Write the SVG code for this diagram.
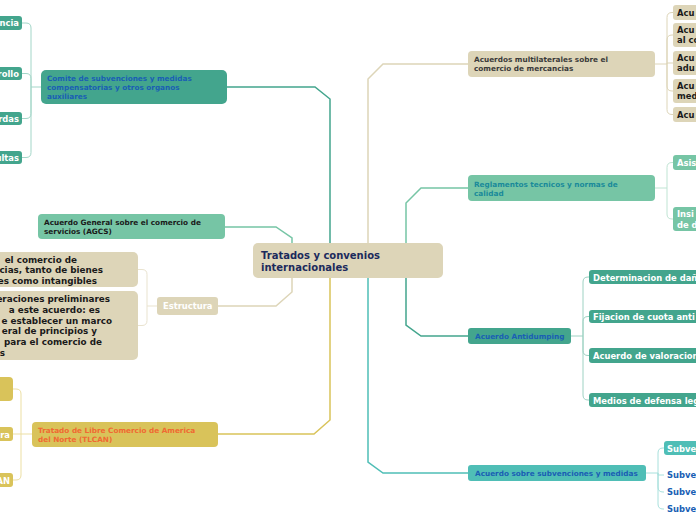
<svg xmlns="http://www.w3.org/2000/svg" width="696" height="520" viewBox="0 0 696 520">
<style>
text{font-family:"DejaVu Sans","Verdana",sans-serif;font-weight:bold}
.t{font-size:7.3px}
.c{font-size:8.4px}
.e{font-size:8.8px;fill:#1a1a1a;text-anchor:end}
.w{fill:#ffffff}
.d{fill:#1a1a1a}
.bl{fill:#1a5fb4}
.main{fill:none;stroke-width:1.5}
.sub{fill:none;stroke-width:1}
.beige{fill:#ddd5b8}
.teal{fill:#43a58d}
.green{fill:#76c5a5}
.mus{fill:#d9c35a}
.turq{fill:#4fbeb6}
</style>
<rect width="696" height="520" fill="#ffffff"/>
<g id="connectors">
<path class="main" stroke="#43a58d" d="M227,87 H315 L330,99 V243"/>
<path class="main" stroke="#76c5a5" d="M225,227 H276 L292,238 V243"/>
<path class="main" stroke="#ddd5b8" d="M218,306 H276 L292,292 V278"/>
<path class="main" stroke="#d9c35a" d="M218,434 H314 L330,420 V278"/>
<path class="main" stroke="#ddd5b8" d="M468,64 H383 L368,79 V243"/>
<path class="main" stroke="#76c5a5" d="M468,188 H421 L406,203 V243"/>
<path class="main" stroke="#43a58d" d="M468,336 H421 L406,325 V278"/>
<path class="main" stroke="#4fbeb6" d="M468,473 H383 L368,462 V278"/>
<g class="sub" stroke="#a3d6c8">
<path d="M41,87 H31"/>
<path d="M31,87 V28 Q31,23 26,23 H22"/>
<path d="M31,87 V78.5 Q31,73.5 26,73.5 H22"/>
<path d="M31,87 V113.5 Q31,118.5 26,118.5 H22"/>
<path d="M31,87 V152.5 Q31,157.5 26,157.5 H22"/>
</g>
<g class="sub" stroke="#e9e3cf">
<path d="M157,306 H147"/>
<path d="M147,306 V274.5 Q147,269.5 142,269.5 H138"/>
<path d="M147,306 V320.5 Q147,325.5 142,325.5 H138"/>
</g>
<g class="sub" stroke="#ecdfa3">
<path d="M32,434 H13"/>
<path d="M21,434 V394 Q21,389 16,389 H13"/>
<path d="M21,434 V475 Q21,480 16,480 H13"/>
</g>
<g class="sub" stroke="#ddd5b8">
<path d="M655,64 H667"/>
<path d="M667,64 V17.5 Q667,12.5 672,12.5 H673"/>
<path d="M667,64 V40 Q667,35 672,35 H673"/>
<path d="M667,64 V63 H673"/>
<path d="M667,64 V86 Q667,91 672,91 H673"/>
<path d="M667,64 V109.5 Q667,114.5 672,114.5 H673"/>
</g>
<g class="sub" stroke="#bfe4d3">
<path d="M655,188 H667"/>
<path d="M667,188 V167.5 Q667,162.5 672,162.5 H673"/>
<path d="M667,188 V214 Q667,219 672,219 H673"/>
</g>
<g class="sub" stroke="#9ed2c3">
<path d="M571,336 H583"/>
<path d="M583,336 V282 Q583,277 588,277 H589"/>
<path d="M583,336 V321.5 Q583,316.5 588,316.5 H589"/>
<path d="M583,336 V350.5 Q583,355.5 588,355.5 H589"/>
<path d="M583,336 V395 Q583,400 588,400 H589"/>
</g>
<g class="sub" stroke="#a8e0dc">
<path d="M646,473 H658"/>
<path d="M658,473 V453 Q658,448 663,448 H664"/>
<path d="M658,473 V475 H664"/>
<path d="M658,473 V487 Q658,492 663,492 H664"/>
<path d="M658,473 V504 Q658,509 663,509 H664"/>
</g>
</g>
<g id="center">
<rect class="beige" x="253" y="243" width="190" height="35" rx="5"/>
<text x="261" y="258.5" font-size="10" fill="#1b2a5c">Tratados y convenios</text>
<text x="261" y="270.5" font-size="10" fill="#1b2a5c">internacionales</text>
</g>
<g id="comite">
<rect class="teal" x="41" y="70" width="186" height="34" rx="5"/>
<text class="t bl" x="47" y="81">Comite de subvenciones y medidas</text>
<text class="t bl" x="47" y="90">compensatorias y otros organos</text>
<text class="t bl" x="47" y="99">auxiliares</text>
</g>
<g id="comite-c1"><rect class="teal" x="-80" y="16" width="102" height="14" rx="3"/><text class="c w" x="19" y="26" text-anchor="end">ncia</text></g>
<g id="comite-c2"><rect class="teal" x="-80" y="67" width="102" height="13" rx="3"/><text class="c w" x="19" y="77" text-anchor="end">rrollo</text></g>
<g id="comite-c3"><rect class="teal" x="-80" y="112" width="102" height="13" rx="3"/><text class="c w" x="19" y="122" text-anchor="end">rdas</text></g>
<g id="comite-c4"><rect class="teal" x="-80" y="151" width="102" height="13" rx="3"/><text class="c w" x="19" y="161" text-anchor="end">ultas</text></g>
<g id="agcs">
<rect class="green" x="38" y="214" width="187" height="25" rx="4"/>
<text class="t d" x="44" y="224.5">Acuerdo General sobre el comercio de</text>
<text class="t d" x="44" y="233.5">servicios (AGCS)</text>
</g>
<g id="estructura">
<rect class="beige" x="157" y="297" width="61" height="18" rx="3"/>
<text class="c w" x="163" y="309">Estructura</text>
</g>
<g id="estructura-c1">
<rect class="beige" x="-100" y="252" width="238" height="35" rx="5"/>
<text class="e" x="77" y="262.5">el comercio de</text>
<text class="e" x="103" y="273.3">cias, tanto de bienes</text>
<text class="e" x="97" y="284">es como intangibles</text>
</g>
<g id="estructura-c2">
<rect class="beige" x="-100" y="291" width="238" height="69" rx="5"/>
<text class="e" x="110" y="302">eraciones preliminares</text>
<text class="e" x="100" y="312.8">a este acuerdo: es</text>
<text class="e" x="112" y="323.6">e establecer un marco</text>
<text class="e" x="97" y="334.4">eral de principios y</text>
<text class="e" x="102" y="345.2">para el comercio de</text>
<text class="e" x="5" y="356">s</text>
</g>
<g id="tlcan">
<rect class="mus" x="32" y="422" width="186" height="25" rx="4"/>
<text class="t" fill="#f06a32" x="38" y="433">Tratado de Libre Comercio de America</text>
<text class="t" fill="#f06a32" x="38" y="442">del Norte (TLCAN)</text>
</g>
<g id="tlcan-c1"><rect class="mus" x="-80" y="377" width="93" height="24" rx="4"/></g>
<g id="tlcan-c2"><rect class="mus" x="-80" y="427" width="93" height="14" rx="3"/><text class="c w" x="10" y="437.5" text-anchor="end">ra</text></g>
<g id="tlcan-c3"><rect class="mus" x="-80" y="473" width="93" height="14" rx="3"/><text class="c w" x="10" y="483.5" text-anchor="end">AN</text></g>
<g id="multilaterales">
<rect class="beige" x="468" y="51" width="187" height="26" rx="4"/>
<text class="t" fill="#3a3a3a" x="474" y="62">Acuerdos multilaterales sobre el</text>
<text class="t" fill="#3a3a3a" x="474" y="71">comercio de mercancias</text>
</g>
<g id="multi-c1"><rect class="beige" x="673" y="5" width="90" height="15" rx="3"/><text class="c d" x="677" y="16">Acu</text></g>
<g id="multi-c2"><rect class="beige" x="673" y="23" width="90" height="24" rx="3"/><text class="c d" x="677" y="32.5">Acu</text><text class="c d" x="677" y="43">al co</text></g>
<g id="multi-c3"><rect class="beige" x="673" y="51" width="90" height="24" rx="3"/><text class="c d" x="677" y="60.5">Acu</text><text class="c d" x="677" y="71">adu</text></g>
<g id="multi-c4"><rect class="beige" x="673" y="79" width="90" height="24" rx="3"/><text class="c d" x="677" y="88.5">Acu</text><text class="c d" x="677" y="99">med</text></g>
<g id="multi-c5"><rect class="beige" x="673" y="107" width="90" height="15" rx="3"/><text class="c d" x="677" y="118">Acu</text></g>
<g id="reglamentos">
<rect class="green" x="468" y="175" width="187" height="26" rx="4"/>
<text class="t" fill="#1a8a9a" x="474" y="187">Reglamentos tecnicos y normas de</text>
<text class="t" fill="#1a8a9a" x="474" y="196">calidad</text>
</g>
<g id="regl-c1"><rect class="green" x="673" y="155" width="90" height="15" rx="3"/><text class="c w" x="677" y="166">Asis</text></g>
<g id="regl-c2"><rect class="green" x="673" y="207" width="90" height="24" rx="3"/><text class="c w" x="677" y="217">Insi</text><text class="c w" x="677" y="228">de d</text></g>
<g id="antidumping">
<rect class="teal" x="468" y="328" width="103" height="16" rx="3"/>
<text class="t bl" x="475" y="339">Acuerdo Antidumping</text>
</g>
<g id="anti-c1"><rect class="teal" x="589" y="270" width="140" height="14" rx="3"/><text class="c w" x="593" y="280.5">Determinacion de dañ</text></g>
<g id="anti-c2"><rect class="teal" x="589" y="310" width="140" height="13" rx="3"/><text class="c w" x="593" y="320">Fijacion de cuota anti</text></g>
<g id="anti-c3"><rect class="teal" x="589" y="348" width="140" height="15" rx="3"/><text class="c w" x="593" y="359">Acuerdo de valoracion</text></g>
<g id="anti-c4"><rect class="teal" x="589" y="393" width="140" height="14" rx="3"/><text class="c w" x="593" y="403.5">Medios de defensa leg</text></g>
<g id="subvenciones">
<rect class="turq" x="468" y="465" width="178" height="16" rx="3"/>
<text class="t bl" x="475" y="476">Acuerdo sobre subvenciones y medidas</text>
</g>
<g id="subv-c1"><rect class="turq" x="664" y="441" width="90" height="14" rx="3"/><text class="c w" x="667" y="451.5">Subve</text></g>
<g id="subv-c2"><text class="c bl" x="667" y="478">Subve</text></g>
<g id="subv-c3"><text class="c bl" x="667" y="495">Subve</text></g>
<g id="subv-c4"><text class="c bl" x="667" y="512">Subve</text></g>
</svg>
